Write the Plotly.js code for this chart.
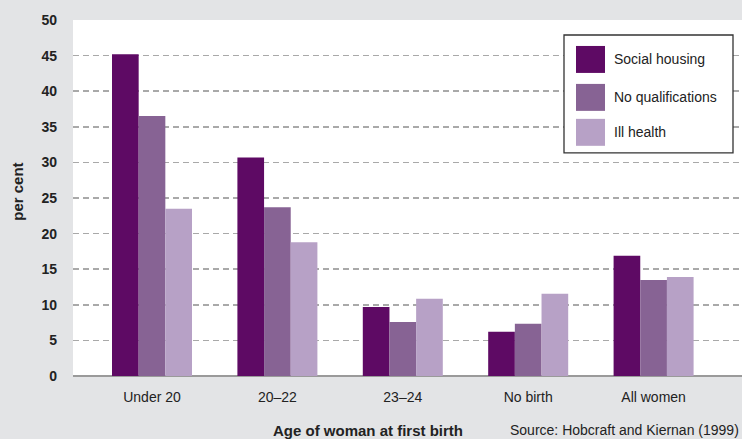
<!DOCTYPE html>
<html><head><meta charset="utf-8">
<script src="https://cdn.plot.ly/plotly-3.0.1.min.js"></script>
<style>body{margin:0;padding:0;background:#E3E4E6}#c{width:742px;height:439px}</style>
</head><body><div id="c"></div>
<script>
const categories = ["Under 20", "20\u201322", "23\u201324", "No birth", "All women"];
const seriesNames = ["Social housing", "No qualifications", "Ill health"];
const socialHousing = [45.2, 30.7, 9.7, 6.2, 16.9];
const noQualifications = [36.5, 23.7, 7.6, 7.35, 13.5];
const illHealth = [23.5, 18.8, 10.85, 11.55, 13.9];
const colors = ["#5E0A64", "#876394", "#B7A1C6"];
const yTicks = [0, 5, 10, 15, 20, 25, 30, 35, 40, 45, 50];

const W = 742, H = 439, L = 73, R = 0, T = 20, B = 62.5;
const pw = W - L - R, ph = H - T - B;
const px = v => (v - L) / pw;
const py = v => (H - B - v) / ph;
const FONT = "'Liberation Sans', Arial, sans-serif";

const values = [socialHousing, noQualifications, illHealth];
const traces = values.map((vals, i) => ({
  type: "bar", x: categories, y: vals, name: seriesNames[i],
  marker: {color: colors[i], line: {width: 0}}, hoverinfo: "x+y+name"
}));

const shapes = [{type: "rect", xref: "paper", yref: "paper",
  x0: px(564), x1: px(733), y0: py(153), y1: py(35),
  fillcolor: "#FFFFFF", line: {color: "#333333", width: 1.3}, layer: "above"}];
const annotations = [];
const rowsTop = [46, 84, 119];
seriesNames.forEach((n, i) => {
  shapes.push({type: "rect", xref: "paper", yref: "paper",
    x0: px(576), x1: px(605), y0: py(rowsTop[i] + 27), y1: py(rowsTop[i]),
    fillcolor: colors[i], line: {width: 0}, layer: "above"});
  annotations.push({xref: "paper", yref: "paper", x: px(612), y: py(rowsTop[i] + 13.5),
    xanchor: "left", yanchor: "middle", showarrow: false, text: n,
    font: {family: FONT, size: 14, color: "#222"}});
});
annotations.push({xref: "paper", yref: "paper", x: px(18), y: py(192), textangle: -90,
  xanchor: "center", yanchor: "middle", showarrow: false, text: "<b>per cent</b>",
  font: {family: FONT, size: 15, color: "#222"}});
annotations.push({xref: "paper", yref: "paper", x: px(368), y: py(431),
  xanchor: "center", yanchor: "middle", showarrow: false, text: "<b>Age of woman at first birth</b>",
  font: {family: FONT, size: 15, color: "#222"}});
annotations.push({xref: "paper", yref: "paper", x: px(741), y: py(431),
  xanchor: "right", yanchor: "middle", showarrow: false, text: "Source: Hobcraft and Kiernan (1999)",
  font: {family: FONT, size: 14, color: "#222"}});

const layout = {
  width: W, height: H,
  margin: {l: L, r: R, t: T, b: B, pad: 0},
  paper_bgcolor: "#E3E4E6", plot_bgcolor: "#FFFFFF",
  barmode: "group", bargap: 0.362, bargroupgap: 0,
  showlegend: false,
  font: {family: FONT, color: "#222"},
  xaxis: {type: "category", range: [-0.63, 4.705], showgrid: false, zeroline: false,
    showline: false, ticks: "", ticklabelstandoff: 11,
    tickfont: {family: FONT, size: 14, color: "#222"}, fixedrange: true},
  yaxis: {range: [0, 50], tickvals: yTicks, ticktext: yTicks.map(v => "<b>" + v + "</b>"),
    showgrid: true, gridcolor: "#A9A9A9", gridwidth: 1.5, griddash: "6px,4px",
    zeroline: true, zerolinecolor: "#9A9A9A", zerolinewidth: 1.5,
    showline: false, ticks: "", ticklabelstandoff: 15,
    tickfont: {family: FONT, size: 14, color: "#222"}, fixedrange: true},
  shapes: shapes, annotations: annotations
};
Plotly.newPlot("c", traces, layout, {displayModeBar: false, staticPlot: true});
</script></body></html>
